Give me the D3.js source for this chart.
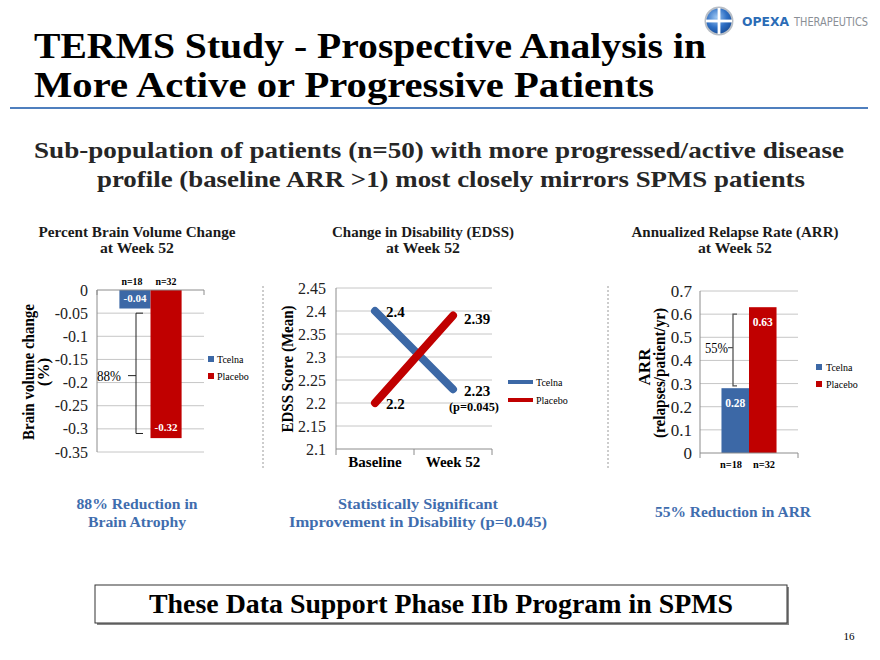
<!DOCTYPE html>
<html><head><meta charset="utf-8">
<script src="https://cdn.jsdelivr.net/npm/d3@7"></script>
<style>html,body{margin:0;padding:0;background:#fff;}svg{display:block;}</style>
</head><body>
<script>
// ---------- data ----------
const series = ["Tcelna", "Placebo"];
const seriesColors = ["#3C68A6", "#C00000"];

const brainValues = [-0.04, -0.32];
const brainN = ["n=18", "n=32"];
const brainTicks = [0, -0.05, -0.1, -0.15, -0.2, -0.25, -0.3, -0.35];

const edssCategories = ["Baseline", "Week 52"];
const edssTcelna = [2.4, 2.23];
const edssPlacebo = [2.2, 2.39];
const edssTicks = [2.1, 2.15, 2.2, 2.25, 2.3, 2.35, 2.4, 2.45];

const arrValues = [0.28, 0.63];
const arrN = ["n=18", "n=32"];
const arrTicks = [0, 0.1, 0.2, 0.3, 0.4, 0.5, 0.6, 0.7];

// ---------- setup ----------
const W = 880, H = 660;
const svg = d3.select("body").append("svg").attr("width", W).attr("height", H);
const SERIF = "'Liberation Serif', 'Times New Roman', serif";
const GSERIF = SERIF;
const fmt = v => String(+v.toFixed(2));
const GRID = "#C6C6C6", AXIS = "#8C8C8C";

function txt(g, x, y, s, o = {}) {
  const t = g.append("text").attr("x", x).attr("y", y).text(s)
    .attr("font-family", o.family || SERIF)
    .attr("font-size", o.size || 12)
    .attr("font-weight", o.weight || "normal")
    .attr("fill", o.fill || "#000")
    .attr("text-anchor", o.anchor || "start");
  if (o.w) t.attr("textLength", o.w).attr("lengthAdjust", "spacingAndGlyphs");
  if (o.rotate) t.attr("transform", `rotate(-90,${x},${y})`);
  return t;
}

// ---------- header ----------
txt(svg, 34, 58, "TERMS Study - Prospective Analysis in", {size: 36, weight: "bold", w: 672});
txt(svg, 34, 97, "More Active or Progressive Patients", {size: 36, weight: "bold", w: 620});
svg.append("line").attr("x1", 10).attr("x2", 868).attr("y1", 108).attr("y2", 108)
  .attr("stroke", "#4F7FBE").attr("stroke-width", 2);

// logo
const defs = svg.append("defs");
const rg = defs.append("radialGradient").attr("id", "lg").attr("cx", "40%").attr("cy", "35%").attr("r", "70%");
rg.append("stop").attr("offset", "0%").attr("stop-color", "#9CC6F2");
rg.append("stop").attr("offset", "60%").attr("stop-color", "#2E6FC4");
rg.append("stop").attr("offset", "100%").attr("stop-color", "#1A4F9A");
svg.append("circle").attr("cx", 719).attr("cy", 21).attr("r", 14.5).attr("fill", "#B8BEC6");
svg.append("circle").attr("cx", 719).attr("cy", 21).attr("r", 12.5).attr("fill", "url(#lg)");
svg.append("rect").attr("x", 717.6).attr("y", 8).attr("width", 2.8).attr("height", 26).attr("fill", "#fff");
svg.append("rect").attr("x", 706).attr("y", 19.6).attr("width", 26).attr("height", 2.8).attr("fill", "#fff");
txt(svg, 742, 26, "OPEXA", {size: 11.5, weight: "bold", fill: "#2B6CB6", family: "'DejaVu Sans', sans-serif", w: 47});
txt(svg, 794, 26, "THERAPEUTICS", {size: 11.5, fill: "#8A8F96", family: "'DejaVu Sans', sans-serif", w: 74});

// subtitle
txt(svg, 34, 158, "Sub-population of patients (n=50) with more progressed/active disease", {size: 23, weight: "bold", fill: "#262626", w: 810});
txt(svg, 97, 187, "profile (baseline ARR >1) most closely mirrors SPMS patients", {size: 23, weight: "bold", fill: "#262626", w: 708});

// chart titles
[[137, "Percent Brain Volume Change"], [423, "Change in Disability (EDSS)"], [735, "Annualized Relapse Rate (ARR)"]]
  .forEach(([cx, s], i) => {
    txt(svg, cx, 237, s, {size: 14, weight: "bold", anchor: "middle", fill: "#1a1a1a", w: [197, 182, 207][i]});
    txt(svg, cx, 253, "at Week 52", {size: 14, weight: "bold", anchor: "middle", fill: "#1a1a1a", w: 74});
  });

// separators
[263, 608].forEach(x => svg.append("line").attr("x1", x).attr("x2", x).attr("y1", 286).attr("y2", 468)
  .attr("stroke", "#9A9A9A").attr("stroke-dasharray", "2,2"));

// ---------- chart 1: brain volume ----------
{
  const g = svg.append("g");
  const y = d3.scaleLinear().domain([-0.35, 0]).range([452, 290]);
  const x0 = d3.scaleBand().domain(["g"]).range([97, 204]).paddingOuter(0.36);
  const x1 = d3.scaleBand().domain(series).range([x0("g"), x0("g") + x0.bandwidth()]);
  g.selectAll(".grid").data(brainTicks.filter(t => t !== 0)).join("line")
    .attr("x1", 97).attr("x2", 204).attr("y1", d => y(d)).attr("y2", d => y(d)).attr("stroke", GRID);
  g.selectAll(".tl").data(brainTicks).join("text")
    .attr("x", 88).attr("y", d => y(d)).attr("dy", "0.35em").attr("text-anchor", "end")
    .attr("font-family", GSERIF).attr("font-size", 16).attr("fill", "#222").text(fmt);
  g.selectAll(".bar").data(brainValues).join("rect")
    .attr("x", (d, i) => x1(series[i])).attr("width", x1.bandwidth())
    .attr("y", y(0)).attr("height", d => y(d) - y(0)).attr("fill", (d, i) => seriesColors[i]);
  g.append("line").attr("x1", 97).attr("x2", 97).attr("y1", 290).attr("y2", 452).attr("stroke", AXIS);
  g.append("line").attr("x1", 97).attr("x2", 204).attr("y1", y(0)).attr("y2", y(0)).attr("stroke", AXIS);
  [97, 204].forEach(xx => g.append("line").attr("x1", xx).attr("x2", xx).attr("y1", y(0)).attr("y2", y(0) + 5).attr("stroke", AXIS));
  brainValues.forEach((v, i) => {
    const cx = x1(series[i]) + x1.bandwidth() / 2;
    txt(g, cx, y(v) - 7, fmt(v), {size: 11, weight: "bold", fill: "#fff", anchor: "middle"});
  });
  [132, 166].forEach((cx, i) => txt(g, cx, 285, brainN[i], {size: 10.5, weight: "bold", anchor: "middle", w: 21}));
  const bx = 136, bt = y(-0.05), bb = y(-0.31), bm = y(-0.185);
  g.append("path").attr("d", `M${bx + 7},${bt} H${bx} V${bb} H${bx + 7} M${bx},${bm} H${bx - 8}`)
    .attr("fill", "none").attr("stroke", "#222").attr("stroke-width", 1);
  txt(g, 97, bm + 5, "88%", {size: 14, w: 24});
  series.forEach((s, i) => {
    g.append("rect").attr("x", 208).attr("y", 356 + i * 17).attr("width", 6).attr("height", 6).attr("fill", seriesColors[i]);
    txt(g, 217, 362.5 + i * 17, s, {size: 10});
  });
  txt(g, 34, 372, "Brain volume change", {size: 17, weight: "bold", anchor: "middle", rotate: true, w: 136});
  txt(g, 49, 372, "(%)", {size: 17, weight: "bold", anchor: "middle", rotate: true});
}

// ---------- chart 2: EDSS ----------
{
  const g = svg.append("g");
  const y = d3.scaleLinear().domain([2.1, 2.45]).range([449, 288]);
  const x = d3.scaleBand().domain(edssCategories).range([336, 492]);
  const cx = d => x(d) + x.bandwidth() / 2;
  g.selectAll(".grid").data(edssTicks.filter(t => t !== 2.1)).join("line")
    .attr("x1", 336).attr("x2", 492).attr("y1", d => y(d)).attr("y2", d => y(d)).attr("stroke", GRID);
  g.selectAll(".tl").data(edssTicks).join("text")
    .attr("x", 326).attr("y", d => y(d)).attr("dy", "0.35em").attr("text-anchor", "end")
    .attr("font-family", GSERIF).attr("font-size", 16).attr("fill", "#222").text(fmt);
  g.append("line").attr("x1", 336).attr("x2", 336).attr("y1", 288).attr("y2", 449).attr("stroke", AXIS);
  g.append("line").attr("x1", 336).attr("x2", 492).attr("y1", 449).attr("y2", 449).attr("stroke", AXIS);
  [336, x("Week 52"), 492].forEach(xx => g.append("line").attr("x1", xx).attr("x2", xx).attr("y1", 449).attr("y2", 455).attr("stroke", AXIS));
  edssCategories.forEach(c => txt(g, cx(c), 467, c, {size: 15, weight: "bold", anchor: "middle"}));
  const line = d3.line().x((d, i) => cx(edssCategories[i])).y(d => y(d));
  [edssTcelna, edssPlacebo].forEach((arr, k) => {
    g.append("path").attr("d", line(arr)).attr("fill", "none").attr("stroke", seriesColors[k])
      .attr("stroke-width", 8).attr("stroke-linecap", "round");
  });
  const lab = (c, v, dy) => txt(g, cx(c) + 11, y(v) + dy, fmt(v), {size: 15, weight: "bold"});
  lab("Baseline", edssTcelna[0], 6);
  lab("Week 52", edssTcelna[1], 7);
  lab("Baseline", edssPlacebo[0], 6);
  lab("Week 52", edssPlacebo[1], 8);
  txt(g, cx("Week 52") - 4, y(edssTcelna[1]) + 22, "(p=0.045)", {size: 12, weight: "bold", w: 50});
  series.forEach((s, i) => {
    g.append("line").attr("x1", 508).attr("x2", 533).attr("y1", 382 + i * 18).attr("y2", 382 + i * 18)
      .attr("stroke", seriesColors[i]).attr("stroke-width", 4);
    txt(g, 536, 385.5 + i * 18, s, {size: 10});
  });
  txt(g, 293, 369, "EDSS Score (Mean)", {size: 17, weight: "bold", anchor: "middle", rotate: true, w: 127});
}

// ---------- chart 3: ARR ----------
{
  const g = svg.append("g");
  const y = d3.scaleLinear().domain([0, 0.7]).range([453, 291]);
  const x0 = d3.scaleBand().domain(["g"]).range([700, 798]).paddingOuter(0.39);
  const x1 = d3.scaleBand().domain(series).range([x0("g"), x0("g") + x0.bandwidth()]);
  g.selectAll(".grid").data(arrTicks.filter(t => t !== 0)).join("line")
    .attr("x1", 700).attr("x2", 798).attr("y1", d => y(d)).attr("y2", d => y(d)).attr("stroke", GRID);
  g.selectAll(".tl").data(arrTicks).join("text")
    .attr("x", 692).attr("y", d => y(d)).attr("dy", "0.35em").attr("text-anchor", "end")
    .attr("font-family", GSERIF).attr("font-size", 17).attr("fill", "#222").text(fmt);
  g.selectAll(".bar").data(arrValues).join("rect")
    .attr("x", (d, i) => x1(series[i])).attr("width", x1.bandwidth())
    .attr("y", d => y(d)).attr("height", d => y(0) - y(d)).attr("fill", (d, i) => seriesColors[i]);
  g.append("line").attr("x1", 700).attr("x2", 700).attr("y1", 291).attr("y2", 453).attr("stroke", AXIS);
  g.append("line").attr("x1", 700).attr("x2", 798).attr("y1", 453).attr("y2", 453).attr("stroke", AXIS);
  [700, 798].forEach(xx => g.append("line").attr("x1", xx).attr("x2", xx).attr("y1", 453).attr("y2", 458).attr("stroke", AXIS));
  arrValues.forEach((v, i) => {
    const cx = x1(series[i]) + x1.bandwidth() / 2;
    txt(g, cx, y(v) + 19, fmt(v), {size: 11.5, weight: "bold", fill: "#fff", anchor: "middle"});
  });
  [731, 764].forEach((cx, i) => txt(g, cx, 468, arrN[i], {size: 10.5, weight: "bold", anchor: "middle", w: 22}));
  const bx = 733, bt = y(0.6), bb = y(0.29), bm = y(0.455);
  g.append("path").attr("d", `M${bx + 4},${bt} H${bx} V${bb} H${bx + 4} M${bx},${bm} H${bx - 5}`)
    .attr("fill", "none").attr("stroke", "#555").attr("stroke-width", 1.3);
  txt(g, 705, bm + 5, "55%", {size: 14, w: 23});
  series.forEach((s, i) => {
    g.append("rect").attr("x", 816).attr("y", 364 + i * 17).attr("width", 6).attr("height", 6).attr("fill", seriesColors[i]);
    txt(g, 826, 370.5 + i * 17, s, {size: 10});
  });
  txt(g, 650, 367, "ARR", {size: 17, weight: "bold", anchor: "middle", rotate: true});
  txt(g, 665, 373, "(relapses/patient/yr)", {size: 17, weight: "bold", anchor: "middle", rotate: true, w: 130});
}

// ---------- captions ----------
const CAP = "#3F6DAE";
txt(svg, 137, 509, "88% Reduction in", {size: 15, weight: "bold", fill: CAP, anchor: "middle", w: 121});
txt(svg, 137, 527, "Brain Atrophy", {size: 15, weight: "bold", fill: CAP, anchor: "middle", w: 98});
txt(svg, 418, 509, "Statistically Significant", {size: 15, weight: "bold", fill: CAP, anchor: "middle", w: 160});
txt(svg, 418, 527, "Improvement in Disability (p=0.045)", {size: 15, weight: "bold", fill: CAP, anchor: "middle", w: 258});
txt(svg, 733, 517, "55% Reduction in ARR", {size: 15, weight: "bold", fill: CAP, anchor: "middle", w: 156});

// bottom box
svg.append("rect").attr("x", 97).attr("y", 587).attr("width", 692).attr("height", 38).attr("fill", "#888");
svg.append("rect").attr("x", 95).attr("y", 585).attr("width", 692).attr("height", 38).attr("fill", "#fff")
  .attr("stroke", "#333").attr("stroke-width", 1);
txt(svg, 441, 613, "These Data Support Phase IIb Program in SPMS", {size: 27, weight: "bold", anchor: "middle", w: 584});
txt(svg, 849, 640, "16", {size: 11, anchor: "middle"});
</script>
</body></html>
